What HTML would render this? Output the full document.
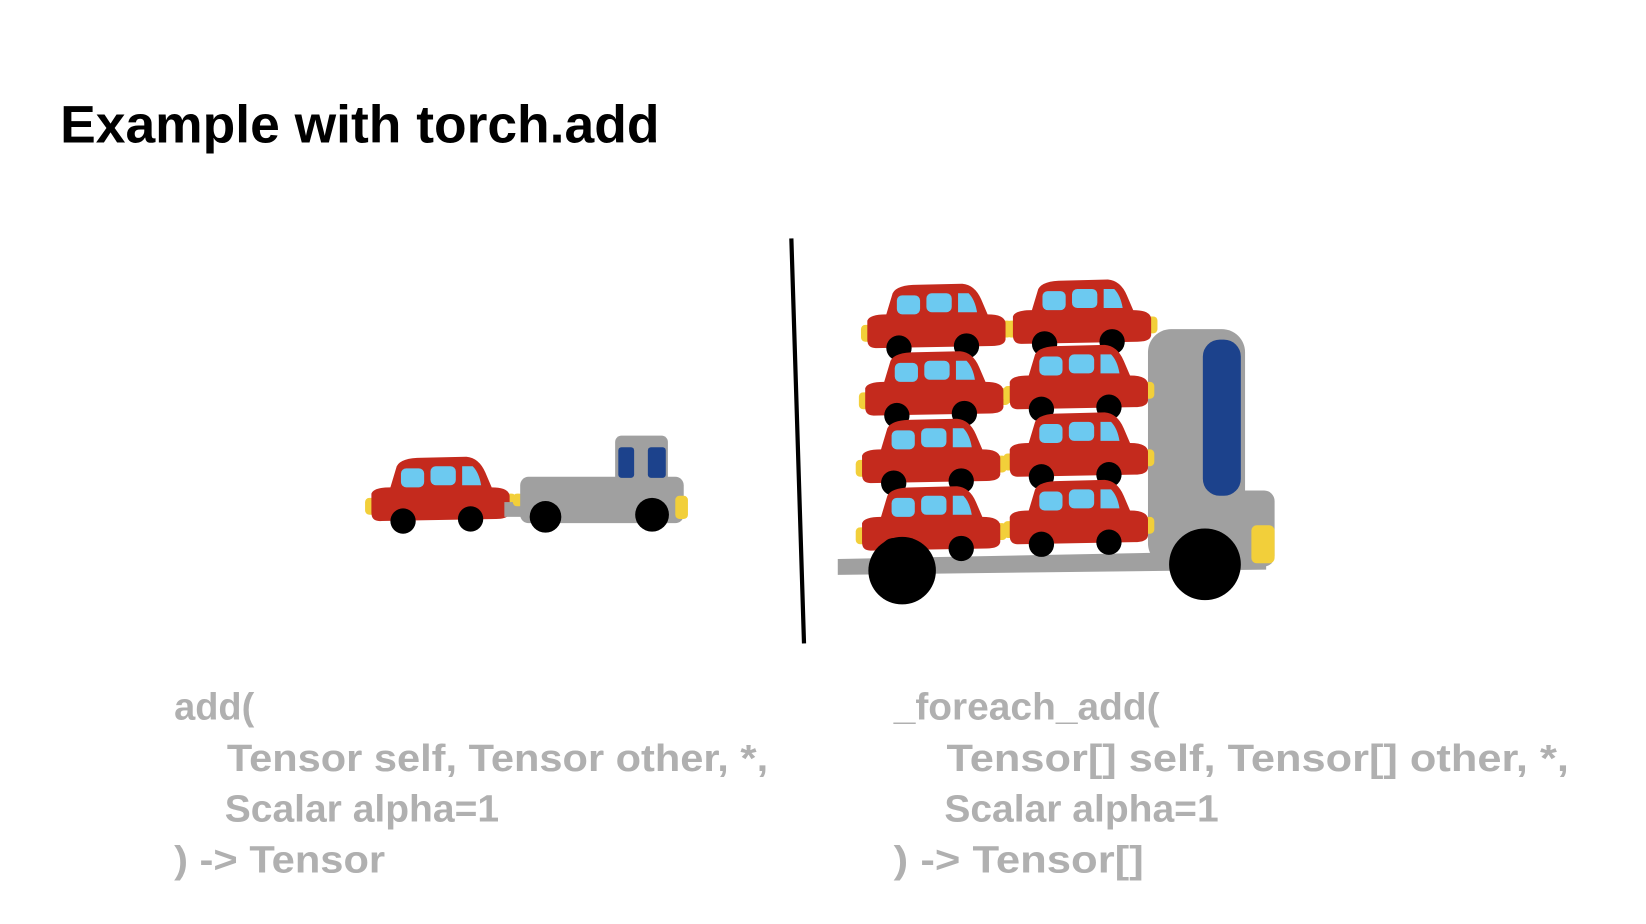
<!DOCTYPE html>
<html><head><meta charset="utf-8">
<style>
html,body{margin:0;padding:0;background:#fff;}
svg{display:block;}
text{font-family:"Liberation Sans",sans-serif;}
</style></head>
<body>
<svg width="1646" height="924" viewBox="0 0 1560 876" preserveAspectRatio="none">
<defs>
<g id="car">
  <rect x="-4" y="40" width="10" height="16" rx="4" fill="#f2cf3a"/>
  <rect x="129" y="36" width="10" height="16" rx="4" fill="#f2cf3a"/>
  <path d="M2,36 Q4,30 20,30 L26,10 Q30,2 50,2 L92,1 Q104,2 110,16 L116,30 Q132,30 133,38 L133,54 Q132,60 120,60 L10,62 Q2,62 2,54 Z" fill="#c42a1d"/>
  <rect x="30" y="12" width="22" height="18" rx="5" fill="#6cc9f0"/>
  <rect x="58" y="10" width="24" height="18" rx="5" fill="#6cc9f0"/>
  <path d="M88,10 L98,10 Q104,16 106,28 L88,28 Z" fill="#6cc9f0"/>
  <circle cx="32" cy="62" r="12" fill="#000"/>
  <circle cx="96" cy="60" r="12" fill="#000"/>
</g>
</defs>

<text x="57" y="135" font-size="50" font-weight="bold" fill="#000" textLength="568" lengthAdjust="spacingAndGlyphs">Example with torch.add</text>

<line x1="750" y1="226" x2="762" y2="610" stroke="#000" stroke-width="4"/>

<g>
  <use href="#car" x="350" y="432"/>
  <rect x="478" y="476" width="18" height="14" fill="#a0a0a0"/>
  <rect x="486" y="468" width="10" height="12" rx="4" fill="#f2cf3a"/>
  <rect x="493" y="452" width="155" height="44" rx="8" fill="#a0a0a0"/>
  <rect x="583" y="413" width="50" height="50" rx="6" fill="#a0a0a0"/>
  <rect x="586" y="424" width="15" height="29" rx="3" fill="#1c428c"/>
  <rect x="614" y="424" width="17" height="29" rx="3" fill="#1c428c"/>
  <rect x="640" y="470" width="12" height="22" rx="4" fill="#f2cf3a"/>
  <circle cx="517" cy="490" r="15" fill="#000"/>
  <circle cx="618" cy="488" r="16" fill="#000"/>
</g>

<g>
  <path d="M794,530 L1200,522 L1200,540 L794,545 Z" fill="#a0a0a0"/>
  <rect x="1088" y="312" width="92" height="225" rx="22" fill="#a0a0a0"/>
  <rect x="1140" y="322" width="36" height="148" rx="16" fill="#1c428c"/>
  <rect x="1170" y="465" width="38" height="72" rx="10" fill="#a0a0a0"/>
  <rect x="1186" y="498" width="22" height="36" rx="5" fill="#f2cf3a"/>
  <use href="#car" x="820" y="268"/>
  <use href="#car" x="958" y="264"/>
  <use href="#car" x="818" y="332"/>
  <use href="#car" x="955" y="326"/>
  <use href="#car" x="815" y="396"/>
  <use href="#car" x="955" y="390"/>
  <use href="#car" x="815" y="460"/>
  <use href="#car" x="955" y="454"/>
  <circle cx="855" cy="541" r="32" fill="#000"/>
  <circle cx="1142" cy="535" r="34" fill="#000"/>
</g>

<g fill="#b0b0b0" font-size="36" font-weight="bold">
  <text x="165" y="682">add(</text>
  <text x="215" y="731" textLength="513" lengthAdjust="spacingAndGlyphs">Tensor self, Tensor other, *,</text>
  <text x="213" y="779" textLength="260" lengthAdjust="spacingAndGlyphs">Scalar alpha=1</text>
  <text x="165" y="827" textLength="200" lengthAdjust="spacingAndGlyphs">) -&gt; Tensor</text>
</g>
<g fill="#b0b0b0" font-size="36" font-weight="bold">
  <text x="847" y="682" textLength="252" lengthAdjust="spacingAndGlyphs">_foreach_add(</text>
  <text x="897" y="731" textLength="590" lengthAdjust="spacingAndGlyphs">Tensor[] self, Tensor[] other, *,</text>
  <text x="895" y="779" textLength="260" lengthAdjust="spacingAndGlyphs">Scalar alpha=1</text>
  <text x="847" y="827" textLength="237" lengthAdjust="spacingAndGlyphs">) -&gt; Tensor[]</text>
</g>
</svg>
</body></html>
